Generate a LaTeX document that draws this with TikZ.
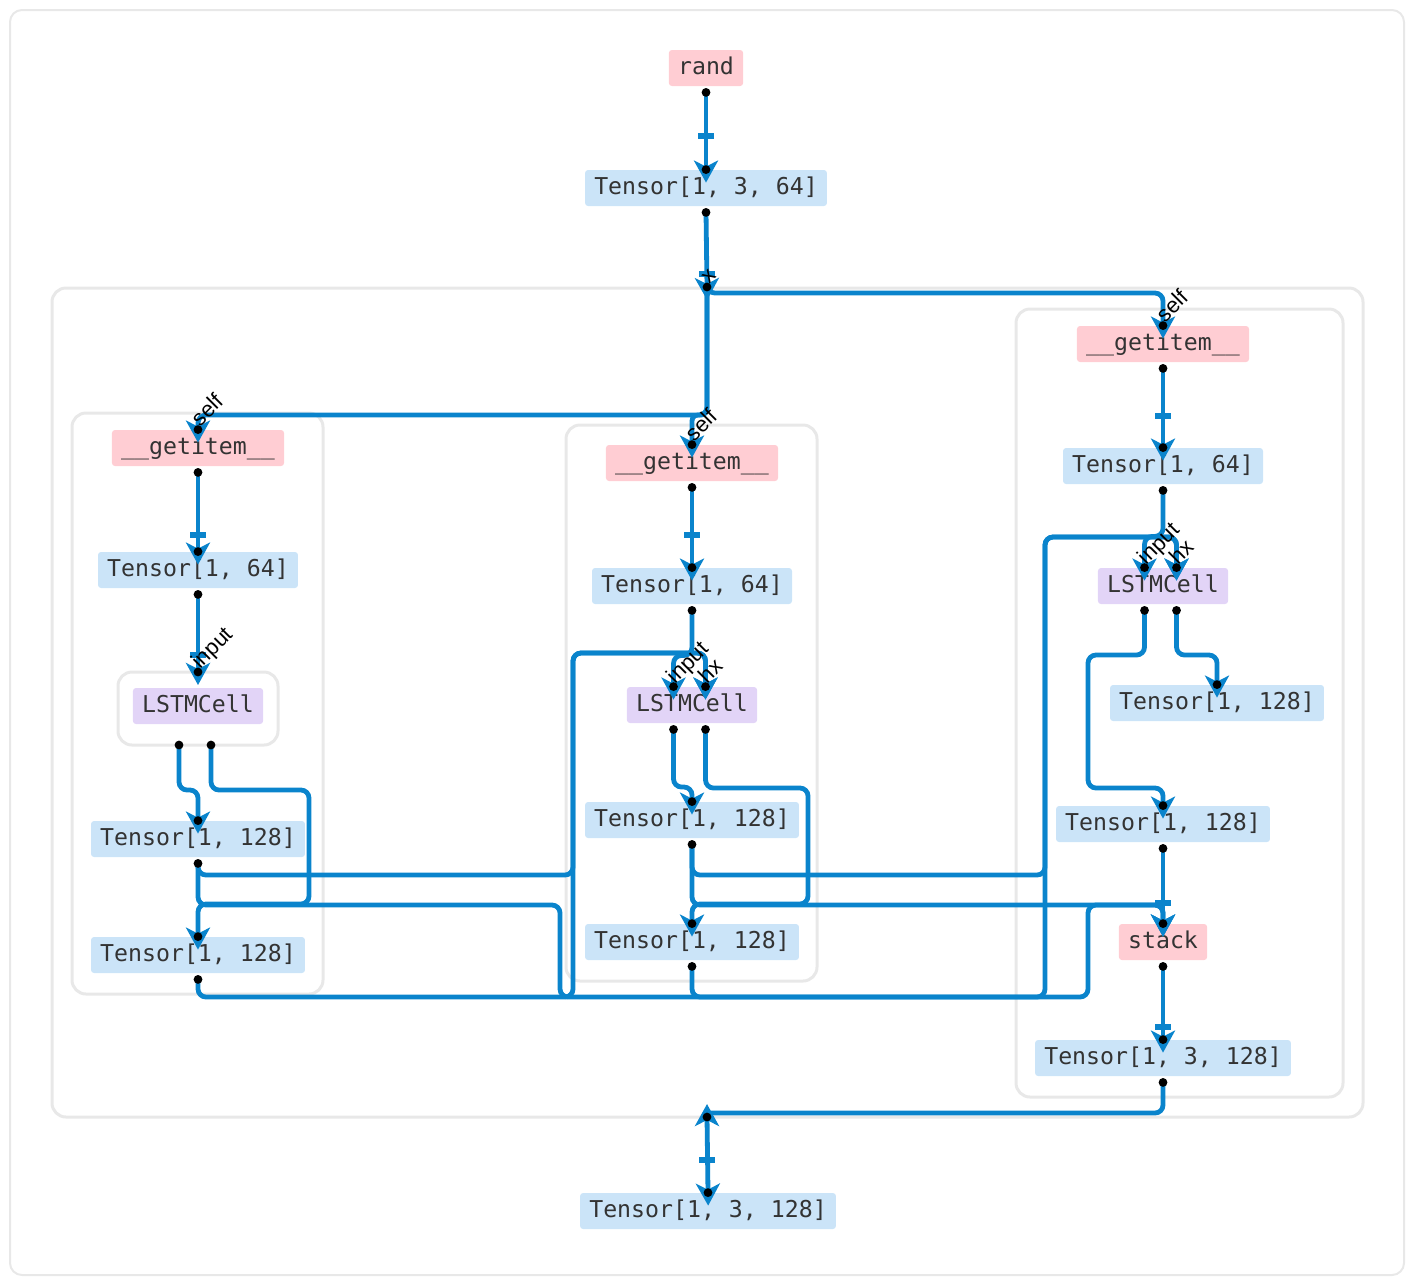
\documentclass[tikz,border=0pt]{standalone}
\usepackage{fontspec}
\setmainfont{Liberation Sans}
\newfontfamily\monofam{DejaVu Sans Mono}
\usetikzlibrary{arrows.meta,calc}
\definecolor{rosa}{HTML}{FFCDD3}
\definecolor{celeste}{HTML}{CBE4F8}
\definecolor{lila}{HTML}{E2D4F7}
\definecolor{azul}{HTML}{0A84CC}
\definecolor{gris}{HTML}{E8E8E8}
\definecolor{tinta}{HTML}{333333}

\begin{document}
\begin{tikzpicture}[x=0.5pt, y=-0.5pt,
    caja/.style={rounded corners=1.5pt, inner xsep=4.6pt, inner ysep=0pt, minimum height=18pt,
                 text height=8.6pt, text depth=2.4pt, text=tinta,
                 font=\monofam\fontsize{11.6}{13}\selectfont},
    op/.style={caja, fill=rosa},
    tns/.style={caja, fill=celeste},
    modulo/.style={caja, fill=lila},
    marco/.style={draw=gris, line width=1.5pt, rounded corners=7pt},
    cable/.style={draw=azul, line width=2.4pt, rounded corners=4pt},
    flecha/.style={cable, -{Stealth[length=11pt, width=12pt, inset=3pt]}, shorten >=-6.5pt},
    corte/.style={draw=azul, line width=2.6pt},
    puerto/.style={font=\fontsize{11}{12}\selectfont, rotate=45, anchor=base west, inner sep=1.5pt}]
    \useasboundingbox (0,0) rectangle (1416,1286);
    \draw[gris, line width=1pt, rounded corners=6pt] (10,10) rectangle (1404,1275);
    \draw[marco] (52,288) rectangle (1363,1117);
    \draw[marco] (72,413) rectangle (323,994);
    \draw[marco] (566,425) rectangle (817,981);
    \draw[marco] (1016,309) rectangle (1343,1097);
    \draw[marco] (118,672) rectangle (278,745);

    \node[op]     (rand) at (706,68)   {rand};
    \node[tns]    (t0)   at (706,188)  {Tensor[1, 3, 64]};
    % izquierda
    \node[op]     (gl)   at (198,448)  {\_\_getitem\_\_};
    \node[tns]    (tl)   at (198,570)  {Tensor[1, 64]};
    \node[modulo] (ml)   at (198,706)  {LSTMCell};
    \node[tns]    (hl)   at (198,839)  {Tensor[1, 128]};
    \node[tns]    (cl)   at (198,955)  {Tensor[1, 128]};
    % centro
    \node[op]     (gm)   at (692,463)  {\_\_getitem\_\_};
    \node[tns]    (tm)   at (692,586)  {Tensor[1, 64]};
    \node[modulo] (mm)   at (692,705)  {LSTMCell};
    \node[tns]    (hm)   at (692,820)  {Tensor[1, 128]};
    \node[tns]    (cm)   at (692,942)  {Tensor[1, 128]};
    % derecha
    \node[op]     (gr)   at (1163,344) {\_\_getitem\_\_};
    \node[tns]    (tr)   at (1163,466) {Tensor[1, 64]};
    \node[modulo] (mr)   at (1163,586) {LSTMCell};
    \node[tns]    (cr)   at (1217,703) {Tensor[1, 128]};
    \node[tns]    (hr)   at (1163,824) {Tensor[1, 128]};
    \node[op]     (st)   at (1163,942) {stack};
    \node[tns]    (sr)   at (1163,1058) {Tensor[1, 3, 128]};
    \node[tns]    (out)  at (708,1211) {Tensor[1, 3, 128]};

    % puertos
    \foreach \n in {rand,t0,gl,tl,hl,cl,gm,tm,hm,cm,gr,tr,hr,st,sr}
      \coordinate (\n-o) at ([yshift=-3pt]\n.south);
    \foreach \n in {mm,mr} {
      \coordinate (\n-i1) at ([xshift=-9.25pt]\n.north);
      \coordinate (\n-i2) at ([xshift=6.75pt]\n.north);
      \coordinate (\n-o1) at ([xshift=-9.25pt,yshift=-3pt]\n.south);
      \coordinate (\n-o2) at ([xshift=6.75pt,yshift=-3pt]\n.south);
    }
    \coordinate (ml-i)  at (198,672);
    \coordinate (ml-o1) at (179,745);
    \coordinate (ml-o2) at (211,745);
    \coordinate (xin)   at (707,287);
    \coordinate (xout)  at (707,1117);

    % entrada
    \draw[flecha] (rand-o) -- (t0.north);
    \draw[flecha] (t0-o) -- (xin);
    \draw[flecha] (xin) -- ++(0,128) -| (gl.north);
    \draw[flecha, rounded corners=3pt] (xin) -- ++(0,128) -| (gm.north);
    \draw[flecha] (xin) -- ++(0,6) -| (gr.north);
    % izquierda
    \draw[flecha] (gl-o) -- (tl.north);
    \draw[flecha] (tl-o) -- (ml-i);
    \draw[flecha] (ml-o1) |- (198,790) -- (hl.north);
    \draw[flecha] (ml-o2) |- (309,790) -- (309,904) -| (cl.north);
    \draw[flecha] (hl-o) |- (573,875) -- (573,653) -| (mm-i2);
    \draw[flecha] (cl-o) |- (573,997) -- (573,653) -| (mm-i2);
    \draw[flecha] (hl-o) |- (560,905) -- (560,997) -| (1088,905) -| (st.north);
    % centro
    \draw[flecha] (gm-o) -- (tm.north);
    \draw[flecha] (tm-o) -- ++(0,45) -| (mm-i1);
    \draw[flecha] (mm-o1) |- (692,787) -- (hm.north);
    \draw[flecha] (mm-o2) |- (808,788) -- (808,904) -| (cm.north);
    \draw[flecha] (hm-o) |- (1045,875) -- (1045,537) -| (mr-i2);
    \draw[flecha] (cm-o) |- (1045,997) -- (1045,537) -| (mr-i2);
    \draw[flecha] (hm-o) |- (1163,905) -- (st.north);
    % derecha
    \draw[flecha] (gr-o) -- (tr.north);
    \draw[flecha] (tr-o) -- ++(0,46) -| (mr-i1);
    \draw[flecha] (mr-o1) |- (1088,655) -- (1088,788) -| (hr.north);
    \draw[flecha] (mr-o2) |- (1217,655) -- (cr.north);
    \draw[flecha] (hr-o) -- (st.north);
    \draw[flecha] (st-o) -- (sr.north);
    \draw[cable] (sr-o) |- ($(xout)+(0,-4)$);
    \draw[flecha] ($(xout)+(0,4)$) -- (xout);
    \draw[flecha] (xout) -- (out.north);

    \foreach \x/\y in {706/136, 707/274, 198/535, 198/655, 692/535, 1163/416, 1163/903, 1163/1027, 707/1160}
      \draw[corte] ({\x-8},\y) -- ({\x+8},\y);
    \foreach \p in {rand-o, t0.north, t0-o, xin, gl.north, gl-o, tl.north, tl-o, ml-i, ml-o1, ml-o2,
                    hl.north, hl-o, cl.north, cl-o, gm.north, gm-o, tm.north, tm-o, mm-i1, mm-i2,
                    mm-o1, mm-o2, hm.north, hm-o, cm.north, cm-o, gr.north, gr-o, tr.north, tr-o,
                    mr-i1, mr-i2, mr-o1, mr-o2, cr.north, hr.north, hr-o, st.north, st-o,
                    sr.north, sr-o, xout, out.north}
      \fill (\p) circle (2.2pt);

    \node[puerto] (lx)  at (xin)      {x};
    \node[puerto] (ls1) at (gl.north) {self};
    \node[puerto] (ls2) at (gm.north) {self};
    \node[puerto] (ls3) at (gr.north) {self};
    \node[puerto] (li1) at (ml-i)     {input};
    \node[puerto] (li2) at (mm-i1)    {input};
    \node[puerto] (li3) at (mr-i1)    {input};
    \node[puerto] (lh2) at (mm-i2)    {hx};
    \node[puerto] (lh3) at (mr-i2)    {hx};
  \end{tikzpicture}
\end{document}
